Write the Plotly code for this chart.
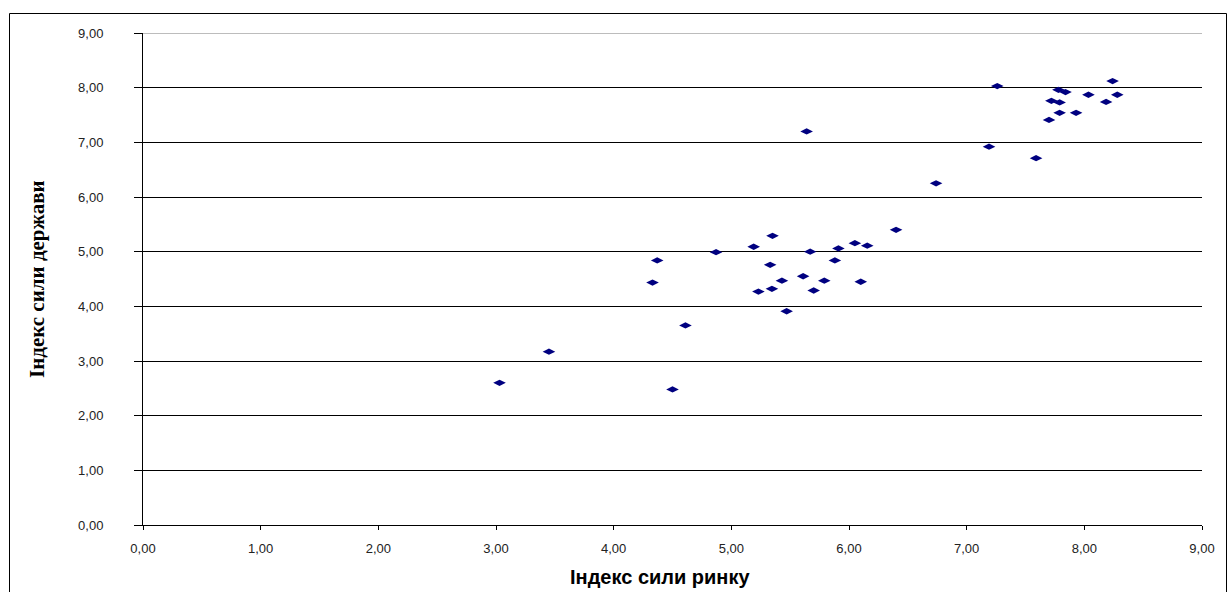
import plotly.graph_objects as go

# Data
market_index = [3.03, 3.45, 4.50, 4.61, 4.33, 4.37, 4.87, 5.19, 5.35, 5.33,
                5.23, 5.345, 5.43, 5.47, 5.64, 5.67, 5.61, 5.70, 5.79, 5.88,
                5.91, 6.05, 6.155, 6.10, 6.40, 6.74, 7.19, 7.26, 7.59, 7.70,
                7.72, 7.78, 7.79, 7.79, 7.84, 7.93, 8.035, 8.185, 8.24, 8.28]
state_index = [2.60, 3.17, 2.48, 3.65, 4.435, 4.84, 4.99, 5.09, 5.29, 4.76,
               4.27, 4.32, 4.47, 3.91, 7.20, 5.00, 4.55, 4.29, 4.47, 4.84,
               5.06, 5.155, 5.11, 4.45, 5.40, 6.25, 6.92, 8.03, 6.71, 7.41,
               7.76, 7.96, 7.73, 7.54, 7.92, 7.54, 7.87, 7.74, 8.12, 7.87]

x_title = "Індекс сили ринку"
y_title = "Індекс сили держави"

W, H = 1227, 592
L, R, T, B = 143, 25, 33, 67
pw, ph = W - L - R, H - T - B

def px_x(p):
    return (p - L) / pw

def px_y(p):
    return (H - B - p) / ph

fig = go.Figure()
fig.add_trace(go.Scatter(
    x=market_index, y=state_index, mode="markers",
    marker=dict(symbol="diamond-wide", size=9, color="#000080",
                line=dict(width=0)),
    showlegend=False, cliponaxis=False,
))

tickfont = dict(family="Liberation Sans, Arial, sans-serif", size=13, color="#222")

fig.update_layout(
    width=W, height=H,
    margin=dict(l=L, r=R, t=T, b=B),
    paper_bgcolor="white", plot_bgcolor="white",
    separators=", ",
    xaxis=dict(range=[0, 9], dtick=1, tick0=0, tickformat=".2f",
               showgrid=False, zeroline=False,
               showline=True, linecolor="black", linewidth=1,
               ticks="outside", ticklen=4, tickcolor="black", tickwidth=1,
               ticklabelstandoff=7, tickfont=tickfont),
    yaxis=dict(range=[0, 9], dtick=1, tick0=0, tickformat=".2f",
               showgrid=True, gridcolor="black", gridwidth=1, zeroline=False,
               showline=True, linecolor="black", linewidth=1,
               ticks="outside", ticklen=8, tickcolor="black", tickwidth=1,
               ticklabelstandoff=28, tickfont=tickfont),
    shapes=[
        dict(type="line", xref="x", yref="y", x0=0, x1=9, y0=9, y1=9,
             line=dict(color="#a6a6a6", width=1.5), layer="above"),
        dict(type="rect", xref="paper", yref="paper",
             x0=px_x(9.5), x1=px_x(1226.5), y0=px_y(610), y1=px_y(13.5),
             line=dict(color="black", width=1), fillcolor="rgba(0,0,0,0)"),
    ],
    annotations=[
        dict(text=f"<b>{y_title}</b>", xref="paper", yref="paper",
             x=px_x(37), y=0.5, textangle=-90, showarrow=False,
             xanchor="center", yanchor="middle",
             font=dict(family="Liberation Serif, Times New Roman, serif",
                       size=21, color="black")),
        dict(text=f"<b>{x_title}</b>", xref="paper", yref="paper",
             x=px_x(660), y=px_y(577), showarrow=False,
             xanchor="center", yanchor="middle",
             font=dict(family="Liberation Sans, Arial, sans-serif",
                       size=20, color="black")),
    ],
)

fig.write_html("out.html",
               config={"displayModeBar": False},
               post_script="document.body.style.margin='0';document.body.style.overflow='hidden';")
